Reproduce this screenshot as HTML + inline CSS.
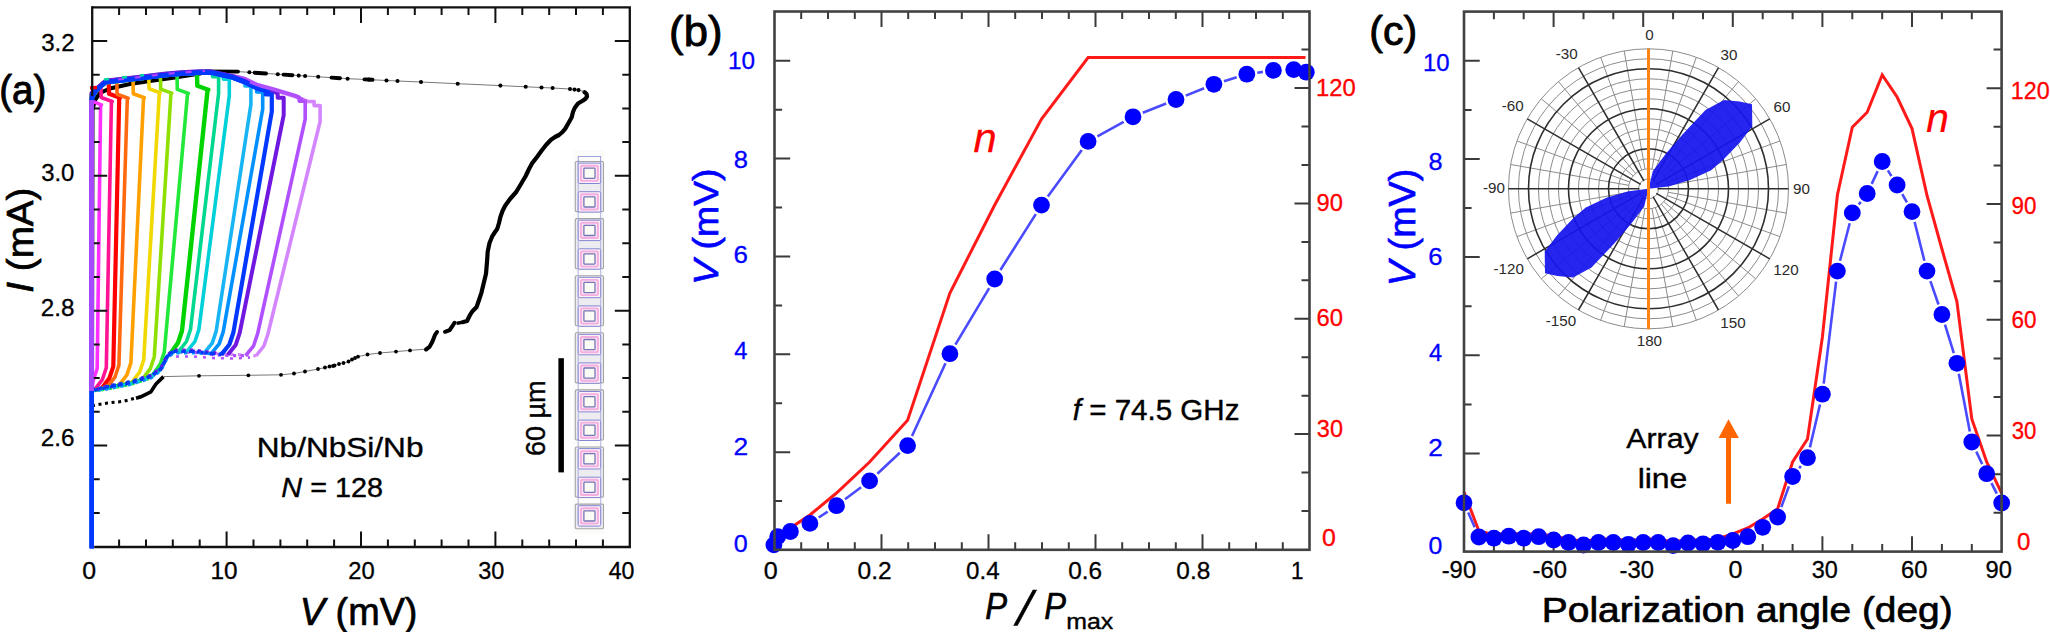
<!DOCTYPE html>
<html lang="en">
<head>
<meta charset="utf-8">
<title>Figure</title>
<style>
html,body{margin:0;padding:0;background:#fff;}
body{width:2050px;height:632px;overflow:hidden;}
svg{display:block;}
svg text{font-family:"Liberation Sans",sans-serif;}
</style>
</head>
<body>
<svg width="2050" height="632" viewBox="0 0 2050 632">
<rect width="2050" height="632" fill="#ffffff"/>
<g id="panel-a">
<rect x="573" y="150" width="31" height="384" fill="#fbfbf9"/>
<rect x="575.3" y="161.5" width="28.2" height="50.1" rx="1.2" fill="#ededf1" stroke="#a4a4a4" stroke-width="1.1"/>
<rect x="575.3" y="218.6" width="28.2" height="50.1" rx="1.2" fill="#ededf1" stroke="#a4a4a4" stroke-width="1.1"/>
<rect x="575.3" y="275.7" width="28.2" height="50.1" rx="1.2" fill="#ededf1" stroke="#a4a4a4" stroke-width="1.1"/>
<rect x="575.3" y="332.8" width="28.2" height="50.1" rx="1.2" fill="#ededf1" stroke="#a4a4a4" stroke-width="1.1"/>
<rect x="575.3" y="389.9" width="28.2" height="50.1" rx="1.2" fill="#ededf1" stroke="#a4a4a4" stroke-width="1.1"/>
<rect x="575.3" y="447.0" width="28.2" height="50.1" rx="1.2" fill="#ededf1" stroke="#a4a4a4" stroke-width="1.1"/>
<rect x="575.3" y="504.1" width="28.2" height="24.6" rx="1.2" fill="#ededf1" stroke="#a4a4a4" stroke-width="1.1"/>
<rect x="578.2" y="156.5" width="22.5" height="8" fill="none" stroke="#8a8ad8" stroke-width="0.8"/>
<path d="M578.2,160 V524 M600.7,160 V524" fill="none" stroke="#a0a0dc" stroke-width="0.8"/>
<rect x="578.2" y="163.1" width="22.5" height="20.4" rx="1.5" fill="#fbeff8" stroke="#8686d2" stroke-width="1"/>
<rect x="580.9" y="165.7" width="17.1" height="15.2" rx="1" fill="#f9e2f3" stroke="#f4afe0" stroke-width="1.9"/>
<rect x="583.9" y="168.2" width="11.1" height="10.2" rx="0.8" fill="#fbfbf5" stroke="#7676b6" stroke-width="1.3"/>
<rect x="578.2" y="191.7" width="22.5" height="20.4" rx="1.5" fill="#fbeff8" stroke="#8686d2" stroke-width="1"/>
<rect x="580.9" y="194.3" width="17.1" height="15.2" rx="1" fill="#f9e2f3" stroke="#f4afe0" stroke-width="1.9"/>
<rect x="583.9" y="196.8" width="11.1" height="10.2" rx="0.8" fill="#fbfbf5" stroke="#7676b6" stroke-width="1.3"/>
<rect x="578.2" y="220.2" width="22.5" height="20.4" rx="1.5" fill="#fbeff8" stroke="#8686d2" stroke-width="1"/>
<rect x="580.9" y="222.8" width="17.1" height="15.2" rx="1" fill="#f9e2f3" stroke="#f4afe0" stroke-width="1.9"/>
<rect x="583.9" y="225.3" width="11.1" height="10.2" rx="0.8" fill="#fbfbf5" stroke="#7676b6" stroke-width="1.3"/>
<rect x="578.2" y="248.8" width="22.5" height="20.4" rx="1.5" fill="#fbeff8" stroke="#8686d2" stroke-width="1"/>
<rect x="580.9" y="251.4" width="17.1" height="15.2" rx="1" fill="#f9e2f3" stroke="#f4afe0" stroke-width="1.9"/>
<rect x="583.9" y="253.9" width="11.1" height="10.2" rx="0.8" fill="#fbfbf5" stroke="#7676b6" stroke-width="1.3"/>
<rect x="578.2" y="277.3" width="22.5" height="20.4" rx="1.5" fill="#fbeff8" stroke="#8686d2" stroke-width="1"/>
<rect x="580.9" y="279.9" width="17.1" height="15.2" rx="1" fill="#f9e2f3" stroke="#f4afe0" stroke-width="1.9"/>
<rect x="583.9" y="282.4" width="11.1" height="10.2" rx="0.8" fill="#fbfbf5" stroke="#7676b6" stroke-width="1.3"/>
<rect x="578.2" y="305.9" width="22.5" height="20.4" rx="1.5" fill="#fbeff8" stroke="#8686d2" stroke-width="1"/>
<rect x="580.9" y="308.4" width="17.1" height="15.2" rx="1" fill="#f9e2f3" stroke="#f4afe0" stroke-width="1.9"/>
<rect x="583.9" y="310.9" width="11.1" height="10.2" rx="0.8" fill="#fbfbf5" stroke="#7676b6" stroke-width="1.3"/>
<rect x="578.2" y="334.4" width="22.5" height="20.4" rx="1.5" fill="#fbeff8" stroke="#8686d2" stroke-width="1"/>
<rect x="580.9" y="337.0" width="17.1" height="15.2" rx="1" fill="#f9e2f3" stroke="#f4afe0" stroke-width="1.9"/>
<rect x="583.9" y="339.5" width="11.1" height="10.2" rx="0.8" fill="#fbfbf5" stroke="#7676b6" stroke-width="1.3"/>
<rect x="578.2" y="362.9" width="22.5" height="20.4" rx="1.5" fill="#fbeff8" stroke="#8686d2" stroke-width="1"/>
<rect x="580.9" y="365.5" width="17.1" height="15.2" rx="1" fill="#f9e2f3" stroke="#f4afe0" stroke-width="1.9"/>
<rect x="583.9" y="368.0" width="11.1" height="10.2" rx="0.8" fill="#fbfbf5" stroke="#7676b6" stroke-width="1.3"/>
<rect x="578.2" y="391.5" width="22.5" height="20.4" rx="1.5" fill="#fbeff8" stroke="#8686d2" stroke-width="1"/>
<rect x="580.9" y="394.1" width="17.1" height="15.2" rx="1" fill="#f9e2f3" stroke="#f4afe0" stroke-width="1.9"/>
<rect x="583.9" y="396.6" width="11.1" height="10.2" rx="0.8" fill="#fbfbf5" stroke="#7676b6" stroke-width="1.3"/>
<rect x="578.2" y="420.1" width="22.5" height="20.4" rx="1.5" fill="#fbeff8" stroke="#8686d2" stroke-width="1"/>
<rect x="580.9" y="422.6" width="17.1" height="15.2" rx="1" fill="#f9e2f3" stroke="#f4afe0" stroke-width="1.9"/>
<rect x="583.9" y="425.1" width="11.1" height="10.2" rx="0.8" fill="#fbfbf5" stroke="#7676b6" stroke-width="1.3"/>
<rect x="578.2" y="448.6" width="22.5" height="20.4" rx="1.5" fill="#fbeff8" stroke="#8686d2" stroke-width="1"/>
<rect x="580.9" y="451.2" width="17.1" height="15.2" rx="1" fill="#f9e2f3" stroke="#f4afe0" stroke-width="1.9"/>
<rect x="583.9" y="453.7" width="11.1" height="10.2" rx="0.8" fill="#fbfbf5" stroke="#7676b6" stroke-width="1.3"/>
<rect x="578.2" y="477.2" width="22.5" height="20.4" rx="1.5" fill="#fbeff8" stroke="#8686d2" stroke-width="1"/>
<rect x="580.9" y="479.8" width="17.1" height="15.2" rx="1" fill="#f9e2f3" stroke="#f4afe0" stroke-width="1.9"/>
<rect x="583.9" y="482.2" width="11.1" height="10.2" rx="0.8" fill="#fbfbf5" stroke="#7676b6" stroke-width="1.3"/>
<rect x="578.2" y="505.7" width="22.5" height="20.4" rx="1.5" fill="#fbeff8" stroke="#8686d2" stroke-width="1"/>
<rect x="580.9" y="508.3" width="17.1" height="15.2" rx="1" fill="#f9e2f3" stroke="#f4afe0" stroke-width="1.9"/>
<rect x="583.9" y="510.8" width="11.1" height="10.2" rx="0.8" fill="#fbfbf5" stroke="#7676b6" stroke-width="1.3"/>
<rect x="558.4" y="358.2" width="5.5" height="114.2" fill="#000"/>
<text transform="translate(545.20,456.05) rotate(-90) scale(1.0014,1)" font-size="27.00" fill="#000" xml:space="preserve" stroke="#000" stroke-width="0.40" stroke-linejoin="round">60 µm</text>
<path d="M92.0,406.0 L92.5,110.0 L95.0,100.0 L100.0,93.0 L110.0,88.5 L130.0,84.0 L150.0,81.0 L175.0,77.5 L200.0,73.5 L206.0,71.8" fill="none" stroke="#000" stroke-width="4" />
<path d="M92.0,405.7 L107.8,403.0 L123.0,401.4 L140.8,396.8" fill="none" stroke="#000" stroke-width="3" stroke-dasharray="3 3.6" stroke-linecap="butt"/>
<path d="M136.0,398.2 L140.8,396.8 L150.9,391.8 L156.0,384.0 L163.5,376.6" fill="none" stroke="#000" stroke-width="3.6" stroke-linejoin="round"/>
<path d="M163.5,376.6 L199.0,375.8 L248.4,375.3 L281.0,374.8 L294.0,373.5 L305.0,371.5 L318.0,369.0 L333.0,366.0 L339.0,364.0 L348.5,361.8 L358.0,356.7 L367.5,354.5 L380.0,353.0 L396.0,351.6 L410.0,350.4 L427.6,349.0" fill="none" stroke="#555" stroke-width="0.8" />
<circle cx="199.0" cy="375.8" r="1.9" fill="#000"/>
<circle cx="248.4" cy="375.3" r="1.9" fill="#000"/>
<circle cx="281.0" cy="374.8" r="1.9" fill="#000"/>
<circle cx="294.0" cy="373.5" r="1.9" fill="#000"/>
<circle cx="305.0" cy="371.5" r="1.9" fill="#000"/>
<circle cx="318.0" cy="369.0" r="1.9" fill="#000"/>
<circle cx="333.0" cy="366.0" r="1.9" fill="#000"/>
<circle cx="325.0" cy="367.5" r="1.9" fill="#000"/>
<circle cx="329.5" cy="366.5" r="1.9" fill="#000"/>
<circle cx="334.5" cy="365.5" r="1.9" fill="#000"/>
<circle cx="339.0" cy="364.0" r="1.9" fill="#000"/>
<circle cx="343.5" cy="363.0" r="1.9" fill="#000"/>
<circle cx="348.5" cy="361.5" r="1.9" fill="#000"/>
<circle cx="352.0" cy="359.5" r="1.9" fill="#000"/>
<circle cx="355.0" cy="358.0" r="1.9" fill="#000"/>
<circle cx="358.0" cy="356.7" r="1.9" fill="#000"/>
<circle cx="367.5" cy="354.5" r="1.9" fill="#000"/>
<circle cx="380.0" cy="353.0" r="1.9" fill="#000"/>
<circle cx="396.0" cy="351.6" r="1.9" fill="#000"/>
<circle cx="410.0" cy="350.4" r="1.9" fill="#000"/>
<path d="M426.0,349.5 L429.5,347.0 L432.3,341.8 L435.0,335.0 L437.0,332.0" fill="none" stroke="#000" stroke-width="4" stroke-linecap="round"/>
<path d="M445.0,331.8 L449.7,330.0 L452.5,326.0 L454.5,322.8" fill="none" stroke="#000" stroke-width="4" stroke-linecap="round"/>
<path d="M462.4,322.2 L467.0,321.0 L470.0,315.0 L472.0,311.8 L476.6,307.0 L479.0,300.0 L481.4,292.8 L484.0,282.0 L486.0,273.8 L487.0,262.0 L487.7,251.6 L489.5,243.0 L492.5,235.8 L495.0,232.0 L497.2,229.0 L499.0,223.0 L500.4,217.0 L502.5,211.0 L505.0,206.0 L510.0,199.0 L516.2,192.0 L521.0,184.0 L525.7,176.0 L529.0,169.0 L532.0,163.4 L537.0,157.0 L541.5,150.8 L546.0,145.0 L551.0,139.7 L555.0,137.0 L559.0,135.0 L562.5,132.0 L565.3,128.6 L568.5,123.0 L571.6,117.5 L573.0,112.0 L574.7,108.0 L578.0,103.5 L582.7,100.8 L585.5,98.8 L587.0,96.5 L586.6,94.0 L584.5,92.2" fill="none" stroke="#000" stroke-width="4.2" stroke-linejoin="round" stroke-linecap="round"/>
<path d="M456.5,323.3 L461,322.5" stroke="#000" stroke-width="3.4"/>
<path d="M204.0,71.4 L238.0,71.6 L252.0,72.5 L262.0,73.2 L282.5,74.5 L297.7,75.5 L318.0,76.8 L335.7,77.9 L347.6,78.7 L369.0,79.6 L386.5,80.5 L397.5,81.0 L421.0,82.0 L457.7,83.7 L500.4,85.6 L525.7,86.8 L541.5,87.5 L552.6,88.0 L570.0,89.0 L578.0,90.0 L584.0,91.5" fill="none" stroke="#555" stroke-width="0.8" />
<circle cx="249.4" cy="72.3" r="2.05" fill="#000"/>
<circle cx="277.8" cy="74.2" r="2.05" fill="#000"/>
<circle cx="298.7" cy="75.6" r="2.05" fill="#000"/>
<circle cx="305.1" cy="76.0" r="2.05" fill="#000"/>
<circle cx="318.2" cy="76.8" r="2.05" fill="#000"/>
<circle cx="347.6" cy="78.7" r="2.05" fill="#000"/>
<circle cx="369.0" cy="79.6" r="2.05" fill="#000"/>
<circle cx="386.5" cy="80.5" r="2.05" fill="#000"/>
<circle cx="397.5" cy="81.0" r="2.05" fill="#000"/>
<circle cx="421.0" cy="82.0" r="2.05" fill="#000"/>
<circle cx="457.7" cy="83.7" r="2.05" fill="#000"/>
<circle cx="500.4" cy="85.6" r="2.05" fill="#000"/>
<circle cx="525.7" cy="86.8" r="2.05" fill="#000"/>
<circle cx="541.5" cy="87.5" r="2.05" fill="#000"/>
<circle cx="552.6" cy="88.0" r="2.05" fill="#000"/>
<circle cx="570.0" cy="89.0" r="2.05" fill="#000"/>
<circle cx="574.5" cy="89.6" r="2.05" fill="#000"/>
<circle cx="578.5" cy="90.1" r="2.05" fill="#000"/>
<path d="M204.0,71.4 L238.0,71.6" stroke="#000" stroke-width="3.9" stroke-linecap="round"/>
<path d="M254.6,72.7 L266.0,73.5" stroke="#000" stroke-width="3.9" stroke-linecap="round"/>
<path d="M283.5,74.6 L292.5,75.2" stroke="#000" stroke-width="3.9" stroke-linecap="round"/>
<path d="M331.5,77.6 L340.0,78.2" stroke="#000" stroke-width="3.9" stroke-linecap="round"/>
<path d="M364.5,79.4 L372.5,79.8" stroke="#000" stroke-width="3.9" stroke-linecap="round"/>
<path d="M255.9,356.0 L252.0,355.3 L232.0,354.3 L211.6,353.1 L194.0,350.8 L173.7,350.8 L167.3,355.6 L161.0,368.3 L151.0,375.9 L130.6,382.3 L105.0,387.3 L91.6,391.0" fill="none" stroke="#d486ff" stroke-width="3.2" stroke-dasharray="3.2 4.5" stroke-dashoffset="0.6"/>
<path d="M91.6,391.0 L91.6,96.0 L96.0,91.0 L100.0,87.5 L105.6,82.7 L124.6,80.6 L144.3,78.3 L164.0,75.8 L181.0,74.3 L200.0,73.2 L210.0,73.3 L232.0,76.5 L245.0,79.5 L257.0,85.5 L275.0,90.5 L295.0,96.5 L308.0,101.5 L314.1,101.6 L314.1,105.6 L320.1,105.6 L320.1,121.5 L267.9,334.0 L263.9,346.0 L255.9,356.0" fill="none" stroke="#d486ff" stroke-width="3.6" stroke-linejoin="round"/>
<path d="M245.6,355.7 L232.0,355.7 L211.6,354.5 L194.0,352.2 L173.7,352.2 L167.3,357.0 L161.0,369.7 L151.0,377.3 L130.6,383.7 L105.0,388.7 L91.6,391.0" fill="none" stroke="#b050ff" stroke-width="3.2" stroke-dasharray="3.2 4.5" stroke-dashoffset="6.0"/>
<path d="M91.6,391.0 L91.6,94.5 L96.0,90.0 L100.0,86.5 L105.6,81.7 L124.6,79.6 L144.3,77.3 L164.0,74.8 L181.0,73.3 L200.0,72.2 L210.0,72.3 L232.0,75.5 L245.0,78.5 L257.0,84.5 L275.0,89.5 L295.0,95.5 L299.2,97.1 L299.2,101.1 L305.2,101.1 L305.2,119.2 L257.6,333.8 L253.6,345.8 L245.6,355.7" fill="none" stroke="#b050ff" stroke-width="3.6" stroke-linejoin="round"/>
<path d="M91.6,391.0 L91.6,93.0" fill="none" stroke="#a848ff" stroke-width="3.6" stroke-linejoin="round"/>
<path d="M91.6,390.5 L91.6,391.0" fill="none" stroke="#ff30ff" stroke-width="3.2" stroke-dasharray="3.2 4.5" stroke-dashoffset="2.3"/>
<path d="M91.6,391.0 L91.6,94.5 L91.6,93.0 L91.6,100.9 L101.4,104.9 L100.6,105.9 L97.2,368.5 L93.2,380.5 L91.6,390.5" fill="none" stroke="#ff30ff" stroke-width="3.6" stroke-linejoin="round"/>
<path d="M94.3,390.1 L91.6,391.0" fill="none" stroke="#ff1493" stroke-width="3.2" stroke-dasharray="3.2 4.5" stroke-dashoffset="4.6"/>
<path d="M91.6,391.0 L91.6,96.0 L96.0,91.0 L100.0,87.5 L100.9,85.7 L101.2,97.5 L112.2,101.5 L111.4,102.5 L106.3,367.7 L102.3,379.7 L94.3,390.1" fill="none" stroke="#ff1493" stroke-width="3.6" stroke-linejoin="round"/>
<path d="M101.3,388.7 L91.6,391.0" fill="none" stroke="#ff0000" stroke-width="3.2" stroke-dasharray="3.2 4.5" stroke-dashoffset="6.9"/>
<path d="M91.6,391.0 L91.6,97.5 L96.0,89.5 L100.0,86.0 L105.6,81.2 L108.7,81.4 L109.0,93.7 L120.0,97.7 L119.2,98.7 L113.3,366.3 L109.3,378.3 L101.3,388.7" fill="none" stroke="#ff0000" stroke-width="4.2" stroke-linejoin="round"/>
<path d="M106.9,387.6 L105.0,388.0 L91.6,391.0" fill="none" stroke="#ff6a10" stroke-width="3.2" stroke-dasharray="3.2 4.5" stroke-dashoffset="1.5"/>
<path d="M91.6,391.0 L91.6,99.0 L96.0,90.5 L100.0,87.0 L105.6,82.2 L116.8,80.5 L117.1,94.3 L128.1,98.3 L127.3,99.3 L118.9,365.2 L114.9,377.2 L106.9,387.6" fill="none" stroke="#ff6a10" stroke-width="3.6" stroke-linejoin="round"/>
<path d="M118.9,385.3 L105.0,386.6 L91.6,391.0" fill="none" stroke="#ffa000" stroke-width="3.2" stroke-dasharray="3.2 4.5" stroke-dashoffset="3.8"/>
<path d="M91.6,391.0 L91.6,93.0 L96.0,89.0 L100.0,85.5 L105.6,80.7 L124.6,78.6 L133.0,78.6 L133.3,93.8 L144.3,97.8 L143.5,98.8 L130.9,362.9 L126.9,374.9 L118.9,385.3" fill="none" stroke="#ffa000" stroke-width="3.6" stroke-linejoin="round"/>
<path d="M131.7,382.7 L130.6,383.7 L105.0,388.7 L91.6,391.0" fill="none" stroke="#f0d800" stroke-width="3.2" stroke-dasharray="3.2 4.5" stroke-dashoffset="6.1"/>
<path d="M91.6,391.0 L91.6,94.5 L96.0,90.0 L100.0,86.5 L105.6,81.7 L124.6,79.6 L144.3,77.3 L148.8,76.7 L149.1,88.8 L160.1,92.8 L159.3,93.8 L143.7,360.0 L139.7,372.0 L131.7,382.7" fill="none" stroke="#f0d800" stroke-width="3.6" stroke-linejoin="round"/>
<path d="M142.3,379.3 L130.6,382.3 L105.0,387.3 L91.6,391.0" fill="none" stroke="#8ee000" stroke-width="3.2" stroke-dasharray="3.2 4.5" stroke-dashoffset="0.7"/>
<path d="M91.6,391.0 L91.6,96.0 L96.0,91.0 L100.0,87.5 L105.6,82.7 L124.6,80.6 L144.3,78.3 L160.4,75.3 L160.7,89.1 L171.7,93.1 L170.9,94.1 L154.3,356.7 L150.3,368.7 L142.3,379.3" fill="none" stroke="#8ee000" stroke-width="3.6" stroke-linejoin="round"/>
<path d="M152.3,375.6 L151.0,378.0 L130.6,384.4 L105.0,389.4 L91.6,391.0" fill="none" stroke="#22e83a" stroke-width="3.2" stroke-dasharray="3.2 4.5" stroke-dashoffset="3.0"/>
<path d="M91.6,391.0 L91.6,97.5 L96.0,89.5 L100.0,86.0 L105.6,81.2 L124.6,79.1 L144.3,76.8 L164.0,74.3 L177.0,73.7 L177.3,89.4 L188.3,93.4 L187.5,94.4 L164.3,352.1 L160.3,364.1 L152.3,375.6" fill="none" stroke="#22e83a" stroke-width="3.6" stroke-linejoin="round"/>
<path d="M170.0,354.3 L167.3,356.3 L161.0,369.0 L151.0,376.6 L130.6,383.0 L105.0,388.0 L91.6,391.0" fill="none" stroke="#00d400" stroke-width="3.2" stroke-dasharray="3.2 4.5" stroke-dashoffset="5.3"/>
<path d="M91.6,391.0 L91.6,99.0 L96.0,90.5 L100.0,87.0 L105.6,82.2 L124.6,80.1 L144.3,77.8 L164.0,75.3 L181.0,73.8 L197.0,72.4 L197.3,85.8 L208.3,89.8 L207.5,90.8 L182.0,330.8 L178.0,342.8 L170.0,354.3" fill="none" stroke="#00d400" stroke-width="4.4" stroke-linejoin="round"/>
<path d="M178.5,351.5 L173.7,350.1 L167.3,354.9 L161.0,367.6 L151.0,375.2 L130.6,381.6 L105.0,386.6 L91.6,391.0" fill="none" stroke="#00d890" stroke-width="3.2" stroke-dasharray="3.2 4.5" stroke-dashoffset="7.6"/>
<path d="M91.6,391.0 L91.6,93.0 L96.0,89.0 L100.0,85.5 L105.6,80.7 L124.6,78.6 L144.3,76.3 L164.0,73.8 L181.0,72.3 L200.0,71.2 L210.0,71.3 L212.6,72.8 L212.6,76.8 L218.6,76.8 L218.6,93.4 L190.5,329.5 L186.5,341.5 L178.5,351.5" fill="none" stroke="#00d890" stroke-width="3.6" stroke-linejoin="round"/>
<path d="M186.9,351.5 L173.7,352.2 L167.3,357.0 L161.0,369.7 L151.0,377.3 L130.6,383.7 L105.0,388.7 L91.6,391.0" fill="none" stroke="#00d0d8" stroke-width="3.2" stroke-dasharray="3.2 4.5" stroke-dashoffset="2.2"/>
<path d="M91.6,391.0 L91.6,94.5 L96.0,90.0 L100.0,86.5 L105.6,81.7 L124.6,79.6 L144.3,77.3 L164.0,74.8 L181.0,73.3 L200.0,72.2 L210.0,72.3 L223.3,75.1 L223.3,79.1 L229.3,79.1 L229.3,95.7 L198.9,329.5 L194.9,341.5 L186.9,351.5" fill="none" stroke="#00d0d8" stroke-width="3.6" stroke-linejoin="round"/>
<path d="M204.2,352.8 L194.0,350.8 L173.7,350.8 L167.3,355.6 L161.0,368.3 L151.0,375.9 L130.6,382.3 L105.0,387.3 L91.6,391.0" fill="none" stroke="#18b4f4" stroke-width="3.2" stroke-dasharray="3.2 4.5" stroke-dashoffset="4.5"/>
<path d="M91.6,391.0 L91.6,96.0 L96.0,91.0 L100.0,87.5 L105.6,82.7 L124.6,80.6 L144.3,78.3 L164.0,75.8 L181.0,74.3 L200.0,73.2 L210.0,73.3 L232.0,78.0 L244.9,82.0 L244.9,86.0 L250.9,86.0 L250.9,104.6 L216.2,331.1 L212.2,343.1 L204.2,352.8" fill="none" stroke="#18b4f4" stroke-width="3.6" stroke-linejoin="round"/>
<path d="M211.2,353.7 L194.0,352.9 L173.7,352.9 L167.3,357.7 L161.0,370.4 L151.0,378.0 L130.6,384.4 L105.0,389.4 L91.6,391.0" fill="none" stroke="#0090ff" stroke-width="3.2" stroke-dasharray="3.2 4.5" stroke-dashoffset="6.8"/>
<path d="M91.6,391.0 L91.6,97.5 L96.0,89.5 L100.0,86.0 L105.6,81.2 L124.6,79.1 L144.3,76.8 L164.0,74.3 L181.0,72.8 L200.0,71.7 L210.0,71.8 L232.0,76.5 L245.0,81.5 L256.7,87.9 L256.7,91.9 L262.7,91.9 L262.7,109.0 L223.2,331.9 L219.2,343.9 L211.2,353.7" fill="none" stroke="#0090ff" stroke-width="3.6" stroke-linejoin="round"/>
<path d="M227.7,354.7 L211.6,352.4 L194.0,350.1 L173.7,350.1 L167.3,354.9 L161.0,367.6 L151.0,375.2 L130.6,381.6 L105.0,386.6 L91.6,391.0" fill="none" stroke="#7018e0" stroke-width="3.2" stroke-dasharray="3.2 4.5" stroke-dashoffset="3.7"/>
<path d="M91.6,391.0 L91.6,93.0 L96.0,89.0 L100.0,85.5 L105.6,80.7 L124.6,78.6 L144.3,76.3 L164.0,73.8 L181.0,72.3 L200.0,71.2 L210.0,71.3 L232.0,76.0 L245.0,81.0 L257.0,87.0 L275.0,92.0 L277.7,93.8 L277.7,97.8 L283.7,97.8 L283.7,115.2 L239.7,332.9 L235.7,344.9 L227.7,354.7" fill="none" stroke="#7018e0" stroke-width="4.0" stroke-linejoin="round"/>
<path d="M221.4,354.4 L211.6,353.8 L194.0,351.5 L173.7,351.5 L167.3,356.3 L161.0,369.0 L151.0,376.6 L130.6,383.0 L105.0,388.0 L91.6,391.0" fill="none" stroke="#0038ff" stroke-width="3.2" stroke-dasharray="3.2 4.5" stroke-dashoffset="1.4"/>
<path d="M91.6,391.0 L91.6,99.0 L96.0,90.5 L100.0,87.0 L105.6,82.2 L124.6,80.1 L144.3,77.8 L164.0,75.3 L181.0,73.8 L200.0,72.7 L210.0,72.8 L232.0,77.5 L245.0,82.5 L257.0,88.5 L265.8,90.4 L265.8,94.4 L271.8,94.4 L271.8,111.5 L233.4,332.5 L229.4,344.5 L221.4,354.4" fill="none" stroke="#0038ff" stroke-width="4.2" stroke-linejoin="round"/>
<path d="M92.0,101.0 L92.5,94.0 L96.0,90.5 L100.0,87.0 L105.6,82.2 L124.6,80.0 L144.3,77.7 L164.0,75.2 L181.0,73.7 L200.0,72.6 L212.0,72.6 L232.0,77.0 L245.0,82.0 L257.0,88.0 L270.0,92.0" fill="none" stroke="#0038ff" stroke-width="4.6" stroke-linejoin="round"/>
<path d="M250.0,82.0 L262.0,86.5 L275.0,90.0 L282.0,92.0 L295.0,96.0 L303.0,99.5" fill="none" stroke="#b050ff" stroke-width="3.2" />
<path d="M118.0,79.5 L144.3,76.5 L164.0,74.0 L190.0,72.0 L205.0,71.0" fill="none" stroke="#b040ff" stroke-width="2.2" stroke-dasharray="6 11"/>
<path d="M104.0,79.5 L124.6,77.2 L144.0,75.0" fill="none" stroke="#00d8a0" stroke-width="2.4" stroke-dasharray="5 13"/>
<path d="M90.0,88.0 L97.0,87.5" fill="none" stroke="#ff0000" stroke-width="3.6" />
<path d="M92.0,390.0 L105.0,387.3 L130.6,382.3 L151.0,376.0 L161.0,368.5 L167.3,356.0 L173.7,351.0" fill="none" stroke="#0038ff" stroke-width="3.4" stroke-dasharray="3.5 3.5"/>
<path d="M173.7,351.5 L194.0,351.5 L211.6,353.6 L225.0,354.5" fill="none" stroke="#0038ff" stroke-width="3" stroke-dasharray="3 6"/>
<path d="M176.0,356.5 L194.0,356.5 L211.6,358.0 L232.0,358.5 L250.0,357.5" fill="none" stroke="#b050ff" stroke-width="2.6" stroke-dasharray="3 6"/>
<rect x="89.3" y="100" width="4.6" height="291" fill="#a848ff"/>
<rect x="89.4" y="391" width="4.6" height="157.5" fill="#0038ff"/>
<path d="M92.2,7.4 H629.8 V547.0 H94.2" fill="none" stroke="#111" stroke-width="2.3"/>
<path d="M92.2,6.2 V96.0" fill="none" stroke="#111" stroke-width="2.3"/>
<path d="M119.1,547.0 v-7.5 M119.1,7.4 v7.5 M146.0,547.0 v-7.5 M146.0,7.4 v7.5 M172.8,547.0 v-7.5 M172.8,7.4 v7.5 M199.7,547.0 v-7.5 M199.7,7.4 v7.5 M226.6,547.0 v-15.5 M226.6,7.4 v15.5 M253.5,547.0 v-7.5 M253.5,7.4 v7.5 M280.4,547.0 v-7.5 M280.4,7.4 v7.5 M307.2,547.0 v-7.5 M307.2,7.4 v7.5 M334.1,547.0 v-7.5 M334.1,7.4 v7.5 M361.0,547.0 v-15.5 M361.0,7.4 v15.5 M387.9,547.0 v-7.5 M387.9,7.4 v7.5 M414.8,547.0 v-7.5 M414.8,7.4 v7.5 M441.6,547.0 v-7.5 M441.6,7.4 v7.5 M468.5,547.0 v-7.5 M468.5,7.4 v7.5 M495.4,547.0 v-15.5 M495.4,7.4 v15.5 M522.3,547.0 v-7.5 M522.3,7.4 v7.5 M549.2,547.0 v-7.5 M549.2,7.4 v7.5 M576.0,547.0 v-7.5 M576.0,7.4 v7.5 M602.9,547.0 v-7.5 M602.9,7.4 v7.5 M92.2,41.0 h15.0 M629.8,41.0 h-15.0 M92.2,74.7 h7.5 M629.8,74.7 h-7.5 M92.2,108.4 h7.5 M629.8,108.4 h-7.5 M92.2,142.1 h7.5 M629.8,142.1 h-7.5 M92.2,175.8 h15.0 M629.8,175.8 h-15.0 M92.2,209.6 h7.5 M629.8,209.6 h-7.5 M92.2,243.3 h7.5 M629.8,243.3 h-7.5 M92.2,277.0 h7.5 M629.8,277.0 h-7.5 M92.2,310.7 h15.0 M629.8,310.7 h-15.0 M92.2,344.4 h7.5 M629.8,344.4 h-7.5 M92.2,378.1 h7.5 M629.8,378.1 h-7.5 M92.2,411.8 h7.5 M629.8,411.8 h-7.5 M92.2,445.5 h15.0 M629.8,445.5 h-15.0 M92.2,479.2 h7.5 M629.8,479.2 h-7.5 M92.2,512.9 h7.5 M629.8,512.9 h-7.5 " stroke="#111" stroke-width="2.0" fill="none"/>
<rect x="89.3" y="100" width="4.6" height="291" fill="#a848ff"/>
<rect x="89.4" y="391" width="4.6" height="157.5" fill="#0038ff"/>
<text transform="translate(82.15,579.25) scale(1.0702,1)" font-size="23.29" fill="#000" xml:space="preserve" stroke="#000" stroke-width="0.30" stroke-linejoin="round">0</text>
<text transform="translate(210.52,579.25) scale(1.0462,1)" font-size="23.29" fill="#000" xml:space="preserve" stroke="#000" stroke-width="0.30" stroke-linejoin="round">10</text>
<text transform="translate(348.26,579.25) scale(1.0206,1)" font-size="23.29" fill="#000" xml:space="preserve" stroke="#000" stroke-width="0.30" stroke-linejoin="round">20</text>
<text transform="translate(478.27,579.25) scale(1.0083,1)" font-size="23.29" fill="#000" xml:space="preserve" stroke="#000" stroke-width="0.30" stroke-linejoin="round">30</text>
<text transform="translate(608.73,579.25) scale(0.9939,1)" font-size="23.29" fill="#000" xml:space="preserve" stroke="#000" stroke-width="0.30" stroke-linejoin="round">40</text>
<text transform="translate(41.15,50.80) scale(1.0353,1)" font-size="23.29" fill="#000" xml:space="preserve" stroke="#000" stroke-width="0.30" stroke-linejoin="round">3.2</text>
<text transform="translate(41.15,181.20) scale(1.0254,1)" font-size="23.29" fill="#000" xml:space="preserve" stroke="#000" stroke-width="0.30" stroke-linejoin="round">3.0</text>
<text transform="translate(40.84,315.80) scale(1.0393,1)" font-size="23.29" fill="#000" xml:space="preserve" stroke="#000" stroke-width="0.30" stroke-linejoin="round">2.8</text>
<text transform="translate(40.84,446.40) scale(1.0393,1)" font-size="23.29" fill="#000" xml:space="preserve" stroke="#000" stroke-width="0.30" stroke-linejoin="round">2.6</text>
<text transform="translate(32.95,292.70) rotate(-90) scale(1.0447,1)" font-size="37.00" fill="#000" xml:space="preserve" stroke="#000" stroke-width="0.70" stroke-linejoin="round"><tspan font-style="italic">I</tspan> (mA)</text>
<text transform="translate(-0.76,103.55) scale(0.9392,1)" font-size="41.14" fill="#000" xml:space="preserve" stroke="#000" stroke-width="0.90" stroke-linejoin="round">(a)</text>
<text transform="translate(299.84,624.65) scale(0.9838,1)" font-size="38.43" fill="#000" xml:space="preserve" stroke="#000" stroke-width="0.70" stroke-linejoin="round"><tspan font-style="italic">V</tspan> (mV)</text>
<text transform="translate(256.79,457.40) scale(1.1110,1)" font-size="28.43" fill="#000" xml:space="preserve" stroke="#000" stroke-width="0.40" stroke-linejoin="round">Nb/NbSi/Nb</text>
<text transform="translate(281.34,497.30) scale(1.0133,1)" font-size="28.43" fill="#000" xml:space="preserve" stroke="#000" stroke-width="0.40" stroke-linejoin="round"><tspan font-style="italic">N</tspan> = 128</text>
</g>
<g id="panel-b">
<path d="M801.2,549.8 v-7.6 M801.2,11.5 v7.6 M828.0,549.8 v-7.6 M828.0,11.5 v7.6 M854.8,549.8 v-7.6 M854.8,11.5 v7.6 M881.5,549.8 v-15.5 M881.5,11.5 v15.5 M908.2,549.8 v-7.6 M908.2,11.5 v7.6 M935.0,549.8 v-7.6 M935.0,11.5 v7.6 M961.8,549.8 v-7.6 M961.8,11.5 v7.6 M988.5,549.8 v-15.5 M988.5,11.5 v15.5 M1015.2,549.8 v-7.6 M1015.2,11.5 v7.6 M1042.0,549.8 v-7.6 M1042.0,11.5 v7.6 M1068.8,549.8 v-7.6 M1068.8,11.5 v7.6 M1095.5,549.8 v-15.5 M1095.5,11.5 v15.5 M1122.2,549.8 v-7.6 M1122.2,11.5 v7.6 M1149.0,549.8 v-7.6 M1149.0,11.5 v7.6 M1175.8,549.8 v-7.6 M1175.8,11.5 v7.6 M1202.5,549.8 v-15.5 M1202.5,11.5 v15.5 M1229.2,549.8 v-7.6 M1229.2,11.5 v7.6 M1256.0,549.8 v-7.6 M1256.0,11.5 v7.6 M1282.8,549.8 v-7.6 M1282.8,11.5 v7.6 M774.5,501.1 h7.6 M774.5,452.2 h15.7 M774.5,403.2 h7.6 M774.5,354.3 h15.7 M774.5,305.4 h7.6 M774.5,256.5 h15.7 M774.5,207.6 h7.6 M774.5,158.6 h15.7 M774.5,109.7 h7.6 M774.5,60.8 h15.7 M1309.5,511.1 h-8.0 M1309.5,472.6 h-8.0 M1309.5,434.1 h-15.0 M1309.5,395.7 h-8.0 M1309.5,357.2 h-8.0 M1309.5,318.8 h-15.0 M1309.5,280.3 h-8.0 M1309.5,241.9 h-8.0 M1309.5,203.4 h-15.0 M1309.5,165.0 h-8.0 M1309.5,126.5 h-8.0 M1309.5,88.1 h-15.0 M1309.5,49.6 h-8.0 " stroke="#3a3a3a" stroke-width="2" fill="none"/>
<path d="M773.9,548.0 L777.7,541.0 L790.4,528.0 L809.9,515.0 L836.5,493.0 L869.6,462.0 L907.6,420.3 L949.9,293.0 L994.7,205.0 L1041.5,119.0 L1088.1,57.6 L1305.5,57.6" fill="none" stroke="#ff1a1a" stroke-width="3.0" stroke-linejoin="miter"/>
<path d="M818.7,517.5 L827.7,511.6 M845.0,499.3 L861.1,487.3 M877.4,473.7 L899.8,452.8 M912.0,436.0 L945.5,363.3 M955.4,344.6 L989.2,288.1 M1000.4,270.0 L1035.8,214.1 M1047.8,196.5 L1081.8,150.0 M1097.4,136.3 L1123.7,121.9 M1142.8,112.8 L1166.2,103.5 M1185.8,95.6 L1204.1,88.2 M1224.0,81.2 L1236.7,77.3 M1257.3,72.7 L1262.9,71.9 " fill="none" stroke="#4a4aff" stroke-width="2.6"/>
<circle cx="773.9" cy="544.9" r="8.4" fill="#0000ff"/>
<circle cx="777.7" cy="536.6" r="8.4" fill="#0000ff"/>
<circle cx="790.4" cy="531.5" r="8.4" fill="#0000ff"/>
<circle cx="809.9" cy="523.4" r="8.4" fill="#0000ff"/>
<circle cx="836.5" cy="505.7" r="8.4" fill="#0000ff"/>
<circle cx="869.6" cy="480.9" r="8.4" fill="#0000ff"/>
<circle cx="907.6" cy="445.6" r="8.4" fill="#0000ff"/>
<circle cx="949.9" cy="353.7" r="8.4" fill="#0000ff"/>
<circle cx="994.7" cy="279.0" r="8.4" fill="#0000ff"/>
<circle cx="1041.5" cy="205.1" r="8.4" fill="#0000ff"/>
<circle cx="1088.1" cy="141.4" r="8.4" fill="#0000ff"/>
<circle cx="1133.0" cy="116.8" r="8.4" fill="#0000ff"/>
<circle cx="1176.0" cy="99.5" r="8.4" fill="#0000ff"/>
<circle cx="1213.9" cy="84.3" r="8.4" fill="#0000ff"/>
<circle cx="1246.8" cy="74.2" r="8.4" fill="#0000ff"/>
<circle cx="1273.4" cy="70.4" r="8.4" fill="#0000ff"/>
<circle cx="1293.7" cy="69.6" r="8.4" fill="#0000ff"/>
<circle cx="1306.3" cy="72.2" r="8.4" fill="#0000ff"/>
<rect x="774.5" y="11.5" width="535.0" height="538.3" fill="none" stroke="#424242" stroke-width="2.6"/>
<text transform="translate(727.92,68.95) scale(1.0462,1)" font-size="23.29" fill="#0000ff" xml:space="preserve" stroke="#0000ff" stroke-width="0.30" stroke-linejoin="round">10</text>
<text transform="translate(733.66,167.85) scale(1.0965,1)" font-size="23.29" fill="#0000ff" xml:space="preserve" stroke="#0000ff" stroke-width="0.30" stroke-linejoin="round">8</text>
<text transform="translate(733.45,262.75) scale(1.1142,1)" font-size="23.29" fill="#0000ff" xml:space="preserve" stroke="#0000ff" stroke-width="0.30" stroke-linejoin="round">6</text>
<text transform="translate(734.22,359.05) scale(1.0205,1)" font-size="23.29" fill="#0000ff" xml:space="preserve" stroke="#0000ff" stroke-width="0.30" stroke-linejoin="round">4</text>
<text transform="translate(733.43,455.25) scale(1.1326,1)" font-size="23.29" fill="#0000ff" xml:space="preserve" stroke="#0000ff" stroke-width="0.30" stroke-linejoin="round">2</text>
<text transform="translate(733.74,551.95) scale(1.0792,1)" font-size="23.29" fill="#0000ff" xml:space="preserve" stroke="#0000ff" stroke-width="0.30" stroke-linejoin="round">0</text>
<text transform="translate(1315.96,95.65) scale(1.0246,1)" font-size="23.29" fill="#ff0000" xml:space="preserve" stroke="#ff0000" stroke-width="0.30" stroke-linejoin="round">120</text>
<text transform="translate(1316.62,210.65) scale(1.0181,1)" font-size="23.29" fill="#ff0000" xml:space="preserve" stroke="#ff0000" stroke-width="0.30" stroke-linejoin="round">90</text>
<text transform="translate(1316.56,326.05) scale(1.0206,1)" font-size="23.29" fill="#ff0000" xml:space="preserve" stroke="#ff0000" stroke-width="0.30" stroke-linejoin="round">60</text>
<text transform="translate(1316.87,436.95) scale(1.0083,1)" font-size="23.29" fill="#ff0000" xml:space="preserve" stroke="#ff0000" stroke-width="0.30" stroke-linejoin="round">30</text>
<text transform="translate(1321.95,546.45) scale(1.0702,1)" font-size="23.29" fill="#ff0000" xml:space="preserve" stroke="#ff0000" stroke-width="0.30" stroke-linejoin="round">0</text>
<text transform="translate(763.79,579.45) scale(1.0792,1)" font-size="23.29" fill="#000" xml:space="preserve" stroke="#000" stroke-width="0.30" stroke-linejoin="round">0</text>
<text transform="translate(857.57,579.45) scale(1.0538,1)" font-size="23.29" fill="#000" xml:space="preserve" stroke="#000" stroke-width="0.30" stroke-linejoin="round">0.2</text>
<text transform="translate(966.09,579.45) scale(1.0359,1)" font-size="23.29" fill="#000" xml:space="preserve" stroke="#000" stroke-width="0.30" stroke-linejoin="round">0.4</text>
<text transform="translate(1068.27,579.45) scale(1.0478,1)" font-size="23.29" fill="#000" xml:space="preserve" stroke="#000" stroke-width="0.30" stroke-linejoin="round">0.6</text>
<text transform="translate(1176.37,579.45) scale(1.0478,1)" font-size="23.29" fill="#000" xml:space="preserve" stroke="#000" stroke-width="0.30" stroke-linejoin="round">0.8</text>
<text transform="translate(1290.97,579.45) scale(0.9632,1)" font-size="23.29" fill="#000" xml:space="preserve" stroke="#000" stroke-width="0.30" stroke-linejoin="round">1</text>
<text transform="translate(669.12,45.85) scale(1.0322,1)" font-size="42.27" fill="#000" xml:space="preserve" stroke="#000" stroke-width="0.90" stroke-linejoin="round">(b)</text>
<text transform="translate(717.75,284.72) rotate(-90) scale(1.0422,1)" font-size="35.86" fill="#0000ff" xml:space="preserve" stroke="#0000ff" stroke-width="0.70" stroke-linejoin="round"><tspan font-style="italic">V</tspan> (mV)</text>
<text transform="translate(973.59,151.88) scale(1.0101,1)" font-size="41.31" fill="#ff0000" xml:space="preserve" stroke="#ff0000" stroke-width="0.25" stroke-linejoin="round"><tspan font-style="italic">n</tspan></text>
<text transform="translate(1072.74,419.70) scale(1.0199,1)" font-size="29.00" fill="#000" xml:space="preserve" stroke="#000" stroke-width="0.40" stroke-linejoin="round"><tspan font-style="italic">f</tspan> = 74.5 GHz</text>
<text transform="translate(985.27,619.45) scale(0.8818,1)" font-size="37.08" fill="#000" xml:space="preserve" stroke="#000" stroke-width="0.70" stroke-linejoin="round"><tspan font-style="italic">P</tspan></text>
<text transform="translate(1013.8,625.0) skewX(-15)" font-size="48.5" fill="#000" stroke="#000" stroke-width="0.5">/</text>
<text transform="translate(1044.17,619.45) scale(0.8775,1)" font-size="37.08" fill="#000" xml:space="preserve" stroke="#000" stroke-width="0.70" stroke-linejoin="round"><tspan font-style="italic">P</tspan></text>
<text transform="translate(1066.18,628.80) scale(1.1066,1)" font-size="22.53" fill="#000" xml:space="preserve" stroke="#000" stroke-width="0.40" stroke-linejoin="round">max</text>
</g>
<g id="panel-c">
<g fill="none" stroke="#8c8c8c" stroke-width="1"><circle cx="1648.5" cy="188.8" r="10"/><circle cx="1648.5" cy="188.8" r="20"/><circle cx="1648.5" cy="188.8" r="30"/><circle cx="1648.5" cy="188.8" r="50"/><circle cx="1648.5" cy="188.8" r="60"/><circle cx="1648.5" cy="188.8" r="70"/><circle cx="1648.5" cy="188.8" r="90"/><circle cx="1648.5" cy="188.8" r="100"/><circle cx="1648.5" cy="188.8" r="110"/><circle cx="1648.5" cy="188.8" r="130"/><circle cx="1648.5" cy="188.8" r="140"/></g>
<path d="M1652.0,169.1 L1672.8,50.9 M1655.3,170.0 L1696.4,57.2 M1661.4,173.5 L1738.5,81.6 M1663.8,175.9 L1755.7,98.8 M1667.3,182.0 L1780.1,140.9 M1668.2,185.3 L1786.4,164.5 M1668.2,192.3 L1786.4,213.1 M1667.3,195.6 L1780.1,236.7 M1663.8,201.7 L1755.7,278.8 M1661.4,204.1 L1738.5,296.0 M1655.3,207.6 L1696.4,320.4 M1652.0,208.5 L1672.8,326.7 M1645.0,208.5 L1624.2,326.7 M1641.7,207.6 L1600.6,320.4 M1635.6,204.1 L1558.5,296.0 M1633.2,201.7 L1541.3,278.8 M1629.7,195.6 L1516.9,236.7 M1628.8,192.3 L1510.6,213.1 M1628.8,185.3 L1510.6,164.5 M1629.7,182.0 L1516.9,140.9 M1633.2,175.9 L1541.3,98.8 M1635.6,173.5 L1558.5,81.6 M1641.7,170.0 L1600.6,57.2 M1645.0,169.1 L1624.2,50.9 " stroke="#8c8c8c" stroke-width="1" fill="none"/>
<g fill="none" stroke="#2e2e2e" stroke-width="1.6"><circle cx="1648.5" cy="188.8" r="40"/><circle cx="1648.5" cy="188.8" r="80"/><circle cx="1648.5" cy="188.8" r="120"/></g>
<path d="M1648.5,179.8 L1648.5,48.8 M1653.0,181.0 L1718.5,67.6 M1656.3,184.3 L1769.7,118.8 M1657.5,188.8 L1788.5,188.8 M1656.3,193.3 L1769.7,258.8 M1653.0,196.6 L1718.5,310.0 M1648.5,197.8 L1648.5,328.8 M1644.0,196.6 L1578.5,310.0 M1640.7,193.3 L1527.3,258.8 M1639.5,188.8 L1508.5,188.8 M1640.7,184.3 L1527.3,118.8 M1644.0,181.0 L1578.5,67.6 " stroke="#2e2e2e" stroke-width="1.5" fill="none"/>
<polygon points="1648.5,188.8 1652.8,171.2 1665.6,154.1 1682.7,134.2 1705.5,110.0 1724.0,100.0 1739.7,101.6 1752.0,104.3 1752.3,126.2 1739.7,142.7 1723.0,160.0 1711.2,170.2 1690.0,180.0 1668.5,186.4" fill="#1414ee" fill-opacity="0.93"/>
<polygon points="1648.5,188.8 1644.2,206.4 1631.4,223.5 1614.3,243.4 1591.5,267.6 1573.0,277.6 1557.3,276.0 1545.0,273.3 1544.7,251.4 1557.3,234.9 1574.0,217.6 1585.8,207.4 1607.0,197.6 1628.5,191.2" fill="#1414ee" fill-opacity="0.93"/>
<rect x="1647.0" y="48.7" width="3" height="280.5" fill="#ff8412"/>
<text x="1649.4" y="40.0" font-size="15.2" text-anchor="middle" fill="#2a2a2a">0</text>
<text x="1729.0" y="60.0" font-size="15.2" text-anchor="middle" fill="#2a2a2a">30</text>
<text x="1782.0" y="112.4" font-size="15.2" text-anchor="middle" fill="#2a2a2a">60</text>
<text x="1801.5" y="193.8" font-size="15.2" text-anchor="middle" fill="#2a2a2a">90</text>
<text x="1786.0" y="275.3" font-size="15.2" text-anchor="middle" fill="#2a2a2a">120</text>
<text x="1733.0" y="327.7" font-size="15.2" text-anchor="middle" fill="#2a2a2a">150</text>
<text x="1649.4" y="346.4" font-size="15.2" text-anchor="middle" fill="#2a2a2a">180</text>
<text x="1561.0" y="326.4" font-size="15.2" text-anchor="middle" fill="#2a2a2a">-150</text>
<text x="1508.7" y="274.1" font-size="15.2" text-anchor="middle" fill="#2a2a2a">-120</text>
<text x="1494.0" y="192.7" font-size="15.2" text-anchor="middle" fill="#2a2a2a">-90</text>
<text x="1512.7" y="111.2" font-size="15.2" text-anchor="middle" fill="#2a2a2a">-60</text>
<text x="1566.8" y="58.8" font-size="15.2" text-anchor="middle" fill="#2a2a2a">-30</text>
<path d="M1493.9,551.6 v-7.6 M1493.9,11.6 v7.6 M1523.7,551.6 v-7.6 M1523.7,11.6 v7.6 M1553.6,551.6 v-15.3 M1553.6,11.6 v15.3 M1583.5,551.6 v-7.6 M1583.5,11.6 v7.6 M1613.3,551.6 v-7.6 M1613.3,11.6 v7.6 M1643.2,551.6 v-15.3 M1643.2,11.6 v15.3 M1673.1,551.6 v-7.6 M1673.1,11.6 v7.6 M1703.0,551.6 v-7.6 M1703.0,11.6 v7.6 M1732.8,551.6 v-15.3 M1732.8,11.6 v15.3 M1762.7,551.6 v-7.6 M1762.7,11.6 v7.6 M1792.6,551.6 v-7.6 M1792.6,11.6 v7.6 M1822.4,551.6 v-15.3 M1822.4,11.6 v15.3 M1852.3,551.6 v-7.6 M1852.3,11.6 v7.6 M1882.2,551.6 v-7.6 M1882.2,11.6 v7.6 M1912.0,551.6 v-15.3 M1912.0,11.6 v15.3 M1941.9,551.6 v-7.6 M1941.9,11.6 v7.6 M1971.8,551.6 v-7.6 M1971.8,11.6 v7.6 M1464.0,502.5 h7.6 M1464.0,453.4 h15.7 M1464.0,404.4 h7.6 M1464.0,355.3 h15.7 M1464.0,306.2 h7.6 M1464.0,257.1 h15.7 M1464.0,208.0 h7.6 M1464.0,159.0 h15.7 M1464.0,109.9 h7.6 M1464.0,60.8 h15.7 M2001.6,512.8 h-8.0 M2001.6,474.2 h-8.0 M2001.6,435.6 h-15.0 M2001.6,397.0 h-8.0 M2001.6,358.4 h-8.0 M2001.6,319.8 h-15.0 M2001.6,281.2 h-8.0 M2001.6,242.6 h-8.0 M2001.6,204.0 h-15.0 M2001.6,165.4 h-8.0 M2001.6,126.8 h-8.0 M2001.6,88.2 h-15.0 M2001.6,49.6 h-8.0 " stroke="#3a3a3a" stroke-width="2" fill="none"/>
<path d="M1464.0,492.0 L1478.9,531.0 L1493.9,534.7 L1508.8,532.7 L1523.7,534.7 L1538.7,533.2 L1553.6,536.5 L1568.5,539.0 L1583.5,541.5 L1598.4,539.0 L1613.3,539.0 L1628.3,540.8 L1643.2,539.0 L1658.2,539.0 L1673.1,542.1 L1688.0,539.5 L1703.0,540.3 L1717.9,538.8 L1732.8,534.0 L1747.8,528.0 L1762.7,519.0 L1777.6,508.9 L1792.6,462.0 L1807.5,439.0 L1822.4,337.0 L1837.4,195.0 L1852.3,127.3 L1867.2,112.2 L1882.2,74.9 L1897.1,97.0 L1912.0,128.6 L1927.0,195.5 L1941.9,249.0 L1956.9,301.5 L1971.8,419.0 L1986.7,462.0 L2001.7,493.4" fill="none" stroke="#ff1a1a" stroke-width="3.0" stroke-linejoin="miter"/>
<path d="M1468.2,512.5 L1474.7,527.3 M1781.3,507.1 L1788.9,486.4 M1799.2,468.2 L1800.9,466.0 M1809.9,447.4 L1820.0,404.5 M1823.7,383.7 L1836.1,281.6 M1840.0,260.8 L1849.7,223.2 M1858.8,204.5 L1860.8,201.9 M1871.7,183.9 L1877.7,171.1 M1887.9,170.4 L1891.4,176.1 M1902.3,194.2 L1906.9,202.4 M1914.6,221.9 L1924.4,260.8 M1930.4,281.1 L1938.5,304.5 M1945.0,324.6 L1953.8,353.2 M1958.8,373.7 L1969.8,431.6 M1976.3,451.6 L1982.2,464.1 M1991.5,483.1 L1996.8,493.6 " fill="none" stroke="#4a4aff" stroke-width="2.6"/>
<circle cx="1464.0" cy="502.8" r="8.4" fill="#0000ff"/>
<circle cx="1478.9" cy="537.0" r="8.4" fill="#0000ff"/>
<circle cx="1493.9" cy="538.2" r="8.4" fill="#0000ff"/>
<circle cx="1508.8" cy="536.2" r="8.4" fill="#0000ff"/>
<circle cx="1523.7" cy="538.2" r="8.4" fill="#0000ff"/>
<circle cx="1538.7" cy="536.7" r="8.4" fill="#0000ff"/>
<circle cx="1553.6" cy="540.0" r="8.4" fill="#0000ff"/>
<circle cx="1568.5" cy="542.5" r="8.4" fill="#0000ff"/>
<circle cx="1583.5" cy="545.0" r="8.4" fill="#0000ff"/>
<circle cx="1598.4" cy="542.5" r="8.4" fill="#0000ff"/>
<circle cx="1613.3" cy="542.5" r="8.4" fill="#0000ff"/>
<circle cx="1628.3" cy="544.3" r="8.4" fill="#0000ff"/>
<circle cx="1643.2" cy="542.5" r="8.4" fill="#0000ff"/>
<circle cx="1658.2" cy="542.5" r="8.4" fill="#0000ff"/>
<circle cx="1673.1" cy="545.6" r="8.4" fill="#0000ff"/>
<circle cx="1688.0" cy="543.0" r="8.4" fill="#0000ff"/>
<circle cx="1703.0" cy="543.8" r="8.4" fill="#0000ff"/>
<circle cx="1717.9" cy="542.3" r="8.4" fill="#0000ff"/>
<circle cx="1732.8" cy="540.5" r="8.4" fill="#0000ff"/>
<circle cx="1747.8" cy="536.7" r="8.4" fill="#0000ff"/>
<circle cx="1762.7" cy="527.3" r="8.4" fill="#0000ff"/>
<circle cx="1777.6" cy="517.0" r="8.4" fill="#0000ff"/>
<circle cx="1792.6" cy="476.5" r="8.4" fill="#0000ff"/>
<circle cx="1807.5" cy="457.7" r="8.4" fill="#0000ff"/>
<circle cx="1822.4" cy="394.2" r="8.4" fill="#0000ff"/>
<circle cx="1837.4" cy="271.1" r="8.4" fill="#0000ff"/>
<circle cx="1852.3" cy="212.9" r="8.4" fill="#0000ff"/>
<circle cx="1867.2" cy="193.5" r="8.4" fill="#0000ff"/>
<circle cx="1882.2" cy="161.5" r="8.4" fill="#0000ff"/>
<circle cx="1897.1" cy="185.0" r="8.4" fill="#0000ff"/>
<circle cx="1912.0" cy="211.6" r="8.4" fill="#0000ff"/>
<circle cx="1927.0" cy="271.1" r="8.4" fill="#0000ff"/>
<circle cx="1941.9" cy="314.5" r="8.4" fill="#0000ff"/>
<circle cx="1956.9" cy="363.3" r="8.4" fill="#0000ff"/>
<circle cx="1971.8" cy="442.0" r="8.4" fill="#0000ff"/>
<circle cx="1986.7" cy="473.7" r="8.4" fill="#0000ff"/>
<circle cx="2001.7" cy="503.0" r="8.4" fill="#0000ff"/>
<rect x="1464.0" y="11.6" width="537.6" height="540.0" fill="none" stroke="#424242" stroke-width="2.6"/>
<path d="M1726,503.7 V438 H1718.6 L1728.5,419.3 L1738.9,438 H1731 V503.7 Z" fill="#ff6600"/>
<text transform="translate(1422.95,70.85) scale(1.0290,1)" font-size="23.29" fill="#0000ff" xml:space="preserve" stroke="#0000ff" stroke-width="0.30" stroke-linejoin="round">10</text>
<text transform="translate(1428.47,170.05) scale(1.0873,1)" font-size="23.29" fill="#0000ff" xml:space="preserve" stroke="#0000ff" stroke-width="0.30" stroke-linejoin="round">8</text>
<text transform="translate(1428.26,265.05) scale(1.1050,1)" font-size="23.29" fill="#0000ff" xml:space="preserve" stroke="#0000ff" stroke-width="0.30" stroke-linejoin="round">6</text>
<text transform="translate(1429.02,360.75) scale(1.0120,1)" font-size="23.29" fill="#0000ff" xml:space="preserve" stroke="#0000ff" stroke-width="0.30" stroke-linejoin="round">4</text>
<text transform="translate(1428.24,456.25) scale(1.1232,1)" font-size="23.29" fill="#0000ff" xml:space="preserve" stroke="#0000ff" stroke-width="0.30" stroke-linejoin="round">2</text>
<text transform="translate(1428.55,554.05) scale(1.0702,1)" font-size="23.29" fill="#0000ff" xml:space="preserve" stroke="#0000ff" stroke-width="0.30" stroke-linejoin="round">0</text>
<text transform="translate(2010.80,99.05) scale(1.0025,1)" font-size="23.29" fill="#ff0000" xml:space="preserve" stroke="#ff0000" stroke-width="0.30" stroke-linejoin="round">120</text>
<text transform="translate(2011.48,214.05) scale(0.9636,1)" font-size="23.29" fill="#ff0000" xml:space="preserve" stroke="#ff0000" stroke-width="0.30" stroke-linejoin="round">90</text>
<text transform="translate(2011.43,327.95) scale(0.9660,1)" font-size="23.29" fill="#ff0000" xml:space="preserve" stroke="#ff0000" stroke-width="0.30" stroke-linejoin="round">60</text>
<text transform="translate(2011.72,438.85) scale(0.9543,1)" font-size="23.29" fill="#ff0000" xml:space="preserve" stroke="#ff0000" stroke-width="0.30" stroke-linejoin="round">30</text>
<text transform="translate(2016.99,550.05) scale(1.0343,1)" font-size="23.29" fill="#ff0000" xml:space="preserve" stroke="#ff0000" stroke-width="0.30" stroke-linejoin="round">0</text>
<text transform="translate(1441.68,578.05) scale(1.0244,1)" font-size="23.29" fill="#000" xml:space="preserve" stroke="#000" stroke-width="0.30" stroke-linejoin="round">-90</text>
<text transform="translate(1532.58,578.05) scale(1.0244,1)" font-size="23.29" fill="#000" xml:space="preserve" stroke="#000" stroke-width="0.30" stroke-linejoin="round">-60</text>
<text transform="translate(1619.48,578.05) scale(1.0244,1)" font-size="23.29" fill="#000" xml:space="preserve" stroke="#000" stroke-width="0.30" stroke-linejoin="round">-30</text>
<text transform="translate(1728.39,578.05) scale(1.0792,1)" font-size="23.29" fill="#000" xml:space="preserve" stroke="#000" stroke-width="0.30" stroke-linejoin="round">0</text>
<text transform="translate(1811.77,578.05) scale(1.0083,1)" font-size="23.29" fill="#000" xml:space="preserve" stroke="#000" stroke-width="0.30" stroke-linejoin="round">30</text>
<text transform="translate(1901.06,578.05) scale(1.0206,1)" font-size="23.29" fill="#000" xml:space="preserve" stroke="#000" stroke-width="0.30" stroke-linejoin="round">60</text>
<text transform="translate(1985.62,578.05) scale(1.0181,1)" font-size="23.29" fill="#000" xml:space="preserve" stroke="#000" stroke-width="0.30" stroke-linejoin="round">90</text>
<text transform="translate(1369.28,45.05) scale(1.0003,1)" font-size="41.14" fill="#000" xml:space="preserve" stroke="#000" stroke-width="0.90" stroke-linejoin="round">(c)</text>
<text transform="translate(1415.35,286.16) rotate(-90) scale(1.0063,1)" font-size="37.57" fill="#0000ff" xml:space="preserve" stroke="#0000ff" stroke-width="0.70" stroke-linejoin="round"><tspan font-style="italic">V</tspan> (mV)</text>
<text transform="translate(1926.21,132.28) scale(0.9855,1)" font-size="41.31" fill="#ff0000" xml:space="preserve" stroke="#ff0000" stroke-width="0.25" stroke-linejoin="round"><tspan font-style="italic">n</tspan></text>
<text transform="translate(1626.22,448.20) scale(1.0732,1)" font-size="28.29" fill="#000" xml:space="preserve" stroke="#000" stroke-width="0.40" stroke-linejoin="round">Array</text>
<text transform="translate(1637.64,488.10) scale(1.1303,1)" font-size="28.29" fill="#000" xml:space="preserve" stroke="#000" stroke-width="0.40" stroke-linejoin="round">line</text>
<text transform="translate(1541.84,622.45) scale(1.0850,1)" font-size="35.86" fill="#000" xml:space="preserve" stroke="#000" stroke-width="0.70" stroke-linejoin="round">Polarization angle (deg)</text>
</g>
</svg>
</body>
</html>
